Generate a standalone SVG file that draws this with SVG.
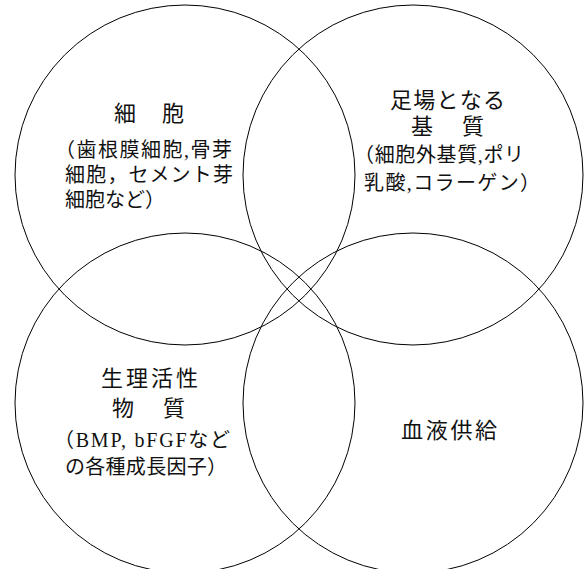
<svg xmlns="http://www.w3.org/2000/svg" width="584" height="569" viewBox="0 0 584 569">
<style>
.c{fill:none;stroke:#000;stroke-width:1}
text{font-family:"Liberation Serif","Noto Sans CJK JP",serif;fill:#111}
.t{font-size:22px}
.b{font-size:20px}
</style>
<rect width="584" height="569" fill="#fff"/>
<g id="cells">
<circle class="c" cx="185" cy="175" r="170"/>
<text class="t" x="114 138 162" y="121">細　胞</text>
<text class="b" x="55" y="157" textLength="177" lengthAdjust="spacing">（歯根膜細胞,骨芽</text>
<text class="b" x="65" y="182" textLength="168" lengthAdjust="spacing">細胞，セメント芽</text>
<text class="b" x="65" y="207">細胞など）</text>
</g>
<g id="scaffold">
<circle class="c" cx="413" cy="175" r="170"/>
<text class="t" x="390 413.25 436.5 459.75 483" y="108">足場となる</text>
<text class="t" x="411 436.5 462" y="134">基　質</text>
<text class="b" x="354" y="162" textLength="170" lengthAdjust="spacing">（細胞外基質,ポリ</text>
<text class="b" x="364" y="190" textLength="176" lengthAdjust="spacing">乳酸,コラーゲン）</text>
</g>
<g id="bioactive">
<circle class="c" cx="185" cy="403" r="170"/>
<text class="t" x="101 126 151 176" y="386">生理活性</text>
<text class="t" x="112 137.5 163" y="416">物　質</text>
<text class="b" x="54" y="447" textLength="176" lengthAdjust="spacing">（BMP, bFGFなど</text>
<text class="b" x="65" y="474" textLength="162" lengthAdjust="spacing">の各種成長因子）</text>
</g>
<g id="blood">
<circle class="c" cx="413" cy="403" r="170"/>
<text class="t" x="401 425.7 450.4 475" y="438">血液供給</text>
</g>
</svg>
